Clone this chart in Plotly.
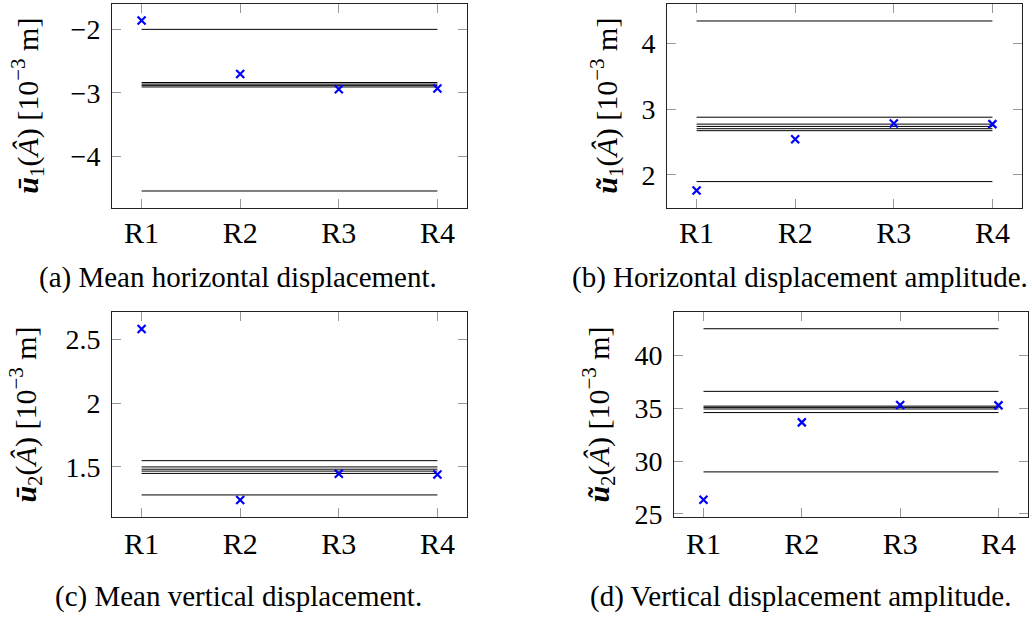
import plotly.graph_objects as go

categories = ["R1", "R2", "R3", "R4"]

# (a) mean horizontal displacement
a_points = [-1.86, -2.70, -2.94, -2.93]
a_lines = [-2.00, -2.835, -2.86, -2.88, -2.905, -4.54]
a_ticks = [-4, -3, -2]
a_ticktext = ["−4", "−3", "−2"]

# (b) horizontal displacement amplitude
b_points = [1.76, 2.54, 2.78, 2.77]
b_lines = [4.34, 2.875, 2.77, 2.735, 2.70, 2.67, 1.895]
b_ticks = [2, 3, 4]
b_ticktext = ["2", "3", "4"]

# (c) mean vertical displacement
c_points = [2.582, 1.241, 1.446, 1.441]
c_lines = [1.549, 1.50, 1.482, 1.467, 1.449, 1.280]
c_ticks = [1.5, 2, 2.5]
c_ticktext = ["1.5", "2", "2.5"]

# (d) vertical displacement amplitude
d_points = [26.34, 33.67, 35.31, 35.28]
d_lines = [42.54, 36.61, 35.21, 35.09, 34.94, 34.60, 28.98]
d_ticks = [25, 30, 35, 40]
d_ticktext = ["25", "30", "35", "40"]

ytitles = [
    "<b><i>ū</i></b><sub>1</sub>(<i>Â</i>) [10<sup>−3</sup> m]",
    "<b><i>ũ</i></b><sub>1</sub>(<i>Â</i>) [10<sup>−3</sup> m]",
    "<b><i>ū</i></b><sub>2</sub>(<i>Â</i>) [10<sup>−3</sup> m]",
    "<b><i>ũ</i></b><sub>2</sub>(<i>Â</i>) [10<sup>−3</sup> m]",
]
captions = [
    "(a) Mean horizontal displacement.",
    "(b) Horizontal displacement amplitude.",
    "(c) Mean vertical displacement.",
    "(d) Vertical displacement amplitude.",
]

W, H = 1032, 617
FONT = "Liberation Serif"

# pixel boxes of the four plot areas: (x0, x1, y0_top, y1_bottom)
boxes = [(112, 467, 4, 212), (667, 1022, 4, 212), (112, 467, 319, 528), (674, 1028, 319, 528)]
yranges = [[-4.8, -1.6], [1.5, 4.6], [1.108, 2.713], [24.72, 44.1]]
title_x = [28, 607, 26, 599]
caption_pos = [(238, 283), (800, 283), (238, 609), (800, 609)]

panels = [
    (a_points, a_lines, a_ticks, a_ticktext),
    (b_points, b_lines, b_ticks, b_ticktext),
    (c_points, c_lines, c_ticks, c_ticktext),
    (d_points, d_lines, d_ticks, d_ticktext),
]

fig = go.Figure()
layout = {}
annotations = []
for i, (pts, lines, tv, tt) in enumerate(panels):
    n = i + 1
    xa = "x" if n == 1 else f"x{n}"
    ya = "y" if n == 1 else f"y{n}"
    for v in lines:
        fig.add_trace(go.Scatter(
            x=[categories[0], categories[-1]], y=[v, v], mode="lines",
            line=dict(color="black", width=1), xaxis=xa, yaxis=ya,
            showlegend=False, hoverinfo="skip"))
    fig.add_trace(go.Scatter(
        x=categories, y=pts, mode="markers",
        marker=dict(symbol="x-thin", size=8, color="blue",
                    line=dict(color="blue", width=2.2)),
        xaxis=xa, yaxis=ya, showlegend=False))
    x0, x1, y0, y1 = boxes[i]
    common = dict(showline=True, mirror="allticks", linecolor="#222", linewidth=1,
                  ticks="inside", ticklen=9, tickcolor="#999", tickwidth=1,
                  showgrid=False, zeroline=False)
    layout["xaxis" if n == 1 else f"xaxis{n}"] = dict(
        domain=[x0 / W, x1 / W], anchor=ya, type="category",
        categoryorder="array", categoryarray=categories,
        range=[-0.3, 3.3], tickfont=dict(family=FONT, size=30, color="black"),
        ticklabelstandoff=-2 if n <= 2 else 0,
        **common)
    layout["yaxis" if n == 1 else f"yaxis{n}"] = dict(
        domain=[1 - y1 / H, 1 - y0 / H], anchor=xa, range=yranges[i],
        tickvals=tv, ticktext=tt, tickfont=dict(family=FONT, size=28, color="black"),
        ticklabelstandoff=5,
        **common)
    annotations.append(dict(
        text=ytitles[i], xref="paper", yref="paper",
        x=title_x[i] / W, y=1 - ((y0 + y1) / 2) / H, showarrow=False,
        textangle=-90, xanchor="center", yanchor="middle",
        font=dict(family=FONT, size=30, color="black")))
    cx, cy = caption_pos[i]
    annotations.append(dict(
        text=captions[i], xref="paper", yref="paper",
        x=cx / W, y=1 - cy / H, showarrow=False,
        xanchor="center", yanchor="middle",
        font=dict(family=FONT, size=29, color="black")))

fig.update_layout(
    width=W, height=H, autosize=False,
    margin=dict(l=0, r=0, t=0, b=0),
    paper_bgcolor="white", plot_bgcolor="white",
    annotations=annotations, **layout)

fig.write_html("out.html", config={"displayModeBar": False},
               post_script="document.body.style.margin='0';")
